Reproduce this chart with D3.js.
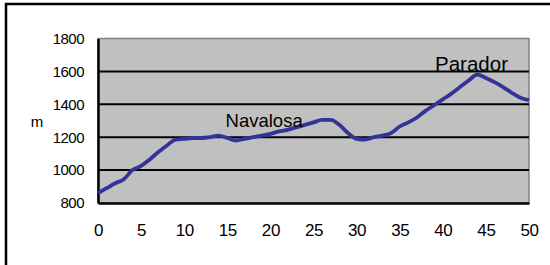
<!DOCTYPE html>
<html>
<head>
<meta charset="utf-8">
<script src="https://cdn.jsdelivr.net/npm/d3@7"></script>
<style>
  body { margin: 0; background: #fff; }
  text { font-family: "Liberation Sans", Arial, sans-serif; fill: #000; }
</style>
</head>
<body>
<div id="chart"></div>
<script>
// elevation profile, km vs metres
var km = [0,1,2,3,4,5,6,7,8,9,10,11,12,13,14,15,16,17,18,19,20,21,22,23,24,25,
          26,27,28,29,30,31,32,33,34,35,36,37,38,39,40,41,42,43,44,45,46,47,48,49,50];
var elev = [860,890,920,945,1000,1025,1065,1110,1150,1185,1190,1195,1195,1200,1210,1195,1180,1190,1200,1210,
            1220,1235,1245,1260,1275,1290,1305,1305,1275,1225,1190,1185,1200,1210,1225,1265,1290,1320,1360,1395,
            1430,1465,1505,1545,1580,1560,1535,1505,1470,1440,1425];
var yTicks = [800,1000,1200,1400,1600,1800];
var xTicks = [0,5,10,15,20,25,30,35,40,45,50];
var places = [{name: "Navalosa", km: 14.8, m: 1262, size: 18.5},
              {name: "Parador", km: 39.1, m: 1605, size: 20.5}];

var svgWidth = 550, svgHeight = 265;
var margin = {top: 38.5, right: 21, bottom: 62, left: 98};
var width = svgWidth - margin.left - margin.right;
var height = svgHeight - margin.top - margin.bottom;

var svg = d3.select("#chart").append("svg")
  .attr("width", svgWidth)
  .attr("height", svgHeight);

// outer frame (runs off the right and bottom edges)
svg.append("rect")
  .attr("x", 6).attr("y", 4)
  .attr("width", 560).attr("height", 280)
  .attr("fill", "none")
  .attr("stroke", "#000")
  .attr("stroke-width", 2.5);

var g = svg.append("g")
  .attr("transform", `translate(${margin.left}, ${margin.top})`);

var x = d3.scaleLinear().domain([0, 50]).range([0, width]);
var y = d3.scaleLinear().domain([800, 1800]).range([height, 0]);

// plot background
g.append("rect")
  .attr("width", width).attr("height", height)
  .attr("fill", "#c0c0c0")
  .attr("stroke", "#808080")
  .attr("stroke-width", 1.5);

// gridlines
g.selectAll(".grid")
  .data(yTicks.slice(1, -1))
  .enter().append("line")
  .attr("x1", 0).attr("x2", width)
  .attr("y1", d => y(d)).attr("y2", d => y(d))
  .attr("stroke", "#000")
  .attr("stroke-width", 2);

// y axis
var yAxis = g.append("g")
  .call(d3.axisLeft(y).tickValues(yTicks).tickFormat(d3.format("d")).tickSize(0).tickPadding(14));
yAxis.select(".domain").attr("stroke", "#000").attr("stroke-width", 2.5);
yAxis.selectAll("text")
  .style("font-size", "15px")
  .style("letter-spacing", "-0.5px")
  .style("font-family", "Liberation Sans, Arial, sans-serif");

// x axis
var xAxis = g.append("g")
  .attr("transform", `translate(0, ${height})`)
  .call(d3.axisBottom(x).tickValues(xTicks).tickFormat(d3.format("d")).tickSize(0).tickPadding(21));
xAxis.select(".domain").attr("stroke", "#000").attr("stroke-width", 2.5);
xAxis.selectAll("text")
  .style("font-size", "17px")
  .style("letter-spacing", "-0.4px")
  .style("font-family", "Liberation Sans, Arial, sans-serif");

// unit label
svg.append("text")
  .attr("x", 37).attr("y", 127)
  .attr("text-anchor", "middle")
  .style("font-size", "15px")
  .text("m");

// profile line
var line = d3.line()
  .x((d, i) => x(km[i]))
  .y(d => y(d))
  .curve(d3.curveMonotoneX);

g.append("path")
  .datum(elev)
  .attr("d", line)
  .attr("fill", "none")
  .attr("stroke", "#333399")
  .attr("stroke-width", 3.8)
  .attr("stroke-linejoin", "round");

// place names
g.selectAll(".place")
  .data(places)
  .enter().append("text")
  .attr("x", d => x(d.km))
  .attr("y", d => y(d.m))
  .style("font-size", d => d.size + "px")
  .text(d => d.name);
</script>
</body>
</html>
